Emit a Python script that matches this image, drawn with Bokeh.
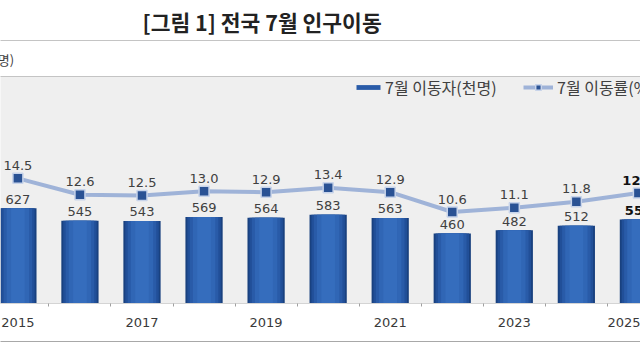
from bokeh.plotting import figure
from bokeh.models import (ColumnDataSource, Range1d, LinearAxis, FixedTicker,
                          Legend, LegendItem, Title)
from bokeh.core.properties import value, field
from bokeh.embed import file_html
from bokeh.resources import INLINE

# ---- data ----
years = [2015, 2016, 2017, 2018, 2019, 2020, 2021, 2022, 2023, 2024, 2025]
movers = [627, 545, 543, 569, 564, 583, 563, 460, 482, 512, 553]
rates = [14.5, 12.6, 12.5, 13.0, 12.9, 13.4, 12.9, 10.6, 11.1, 11.8, 12.8]
tick_years = [2015, 2017, 2019, 2021, 2023, 2025]
title_text = "[그림 1] 전국 7월 인구이동"
unit_text = "(천명)"
bar_name = "7월 이동자(천명)"
line_name = "7월 이동률(%)"

KFONT = "Noto Sans CJK KR"
NFONT = "DejaVu Sans"

last = years[-1]
src = ColumnDataSource(dict(
    year=years, movers=movers, rate=rates,
    mover_lbl=[str(v) for v in movers],
    rate_lbl=[f"{v:.1f}" for v in rates],
    style=["bold" if y == last else "normal" for y in years],
    color=["#111111" if y == last else "#404040" for y in years],
))

p = figure(width=640, height=360,
           x_range=Range1d(2014.7196, 2025.0338), y_range=Range1d(0, 1493),
           output_backend="svg", toolbar_location=None,
           x_axis_location=None, y_axis_location=None,
           min_border_left=0, min_border_right=0, min_border_top=0, min_border_bottom=57,
           background_fill_color="#efefef", border_fill_color="white",
           outline_line_color=None)
p.extra_y_ranges = {"rate": Range1d(0, 26.3)}
p.grid.visible = False

# bars (layered to imitate the horizontal gradient)
bar_layers = []
for w, c in [(0.6, "#19417f"), (0.54, "#214f98"), (0.46, "#295ba8"),
             (0.36, "#3066b5"), (0.22, "#356dbd")]:
    r = p.vbar(x="year", top="movers", bottom=0, width=w, source=src,
               fill_color=c, line_color=None)
    bar_layers.append(r)

p.text(x="year", y="movers", text="mover_lbl", source=src,
       text_align="center", text_baseline="alphabetic", y_offset=-9,
       text_font=value(NFONT), text_font_size="13px",
       text_color=field("color"), text_font_style=field("style"))

ln = p.line(x="year", y="rate", source=src, y_range_name="rate",
            line_color="#9fb3d8", line_width=4)
mk = p.scatter(x="year", y="rate", source=src, y_range_name="rate",
               marker="square", size=10, fill_color="#2a5294",
               line_color="#c8d4ea", line_width=1.5)

p.text(x="year", y="rate", text="rate_lbl", source=src, y_range_name="rate",
       text_align="center", text_baseline="alphabetic", y_offset=-13,
       text_font=value(NFONT), text_font_size="13px",
       text_color=field("color"), text_font_style=field("style"))

# x axis
xax = LinearAxis(ticker=FixedTicker(ticks=tick_years,
                                    minor_ticks=[y - 0.5 for y in years] + [last + 0.5]))
xax.axis_line_color = "#d4d4d4"
xax.major_tick_line_color = None
xax.major_tick_out = 0
xax.major_tick_in = 0
xax.minor_tick_line_color = "#a0a0a0"
xax.minor_tick_out = 3
xax.minor_tick_in = 0
xax.major_label_standoff = 11
xax.major_label_text_font = NFONT
xax.major_label_text_font_size = "13px"
xax.major_label_text_color = "#3a3a3a"
xax.axis_label = " "
xax.axis_label_text_font_size = "1px"
xax.axis_label_standoff = 8
p.add_layout(xax, "below")

xax2 = LinearAxis(ticker=FixedTicker(ticks=[]), axis_line_color="#a8a8a8",
                  major_tick_line_color=None, minor_tick_line_color=None)
p.add_layout(xax2, "below")

# header decorations
axA = LinearAxis(ticker=FixedTicker(ticks=[]), axis_line_color="#c4c4c4",
                 major_tick_line_color=None, minor_tick_line_color=None)
p.add_layout(axA, "above")
unit_title = Title(text=unit_text, align="left", offset=-26,
                   text_font=KFONT, text_font_size="13px", text_font_style="normal",
                   text_color="#404040", standoff=1, padding=7)
p.add_layout(unit_title, "above")
axB = LinearAxis(ticker=FixedTicker(ticks=[]), axis_line_color="#c4c4c4",
                 major_tick_line_color=None, minor_tick_line_color=None)
p.add_layout(axB, "above")

p.title.text = title_text
p.title.align = "left"
p.title.offset = 142
p.title.text_font = KFONT
p.title.text_font_size = "21.5px"
p.title.text_font_style = "bold"
p.title.text_color = "#222222"
p.title.standoff = 7

# legends (location = bottom-left corner, in frame pixels from bottom-left)
leg1 = Legend(items=[LegendItem(label=bar_name, renderers=[bar_layers[2]])],
              location=(353, 204), orientation="horizontal",
              glyph_width=30, glyph_height=6, label_standoff=2,
              padding=0, margin=0, background_fill_alpha=0, border_line_color=None,
              label_text_font=KFONT, label_text_font_size="16px",
              label_text_color="#404040")
leg2 = Legend(items=[LegendItem(label=line_name, renderers=[ln, mk])],
              location=(523, 204), orientation="horizontal",
              glyph_width=30, glyph_height=14, label_standoff=4,
              padding=0, margin=0, background_fill_alpha=0, border_line_color=None,
              label_text_font=KFONT, label_text_font_size="16px",
              label_text_color="#404040")
p.add_layout(leg1)
p.add_layout(leg2)

open("out.html", "w").write(file_html(p, INLINE))
